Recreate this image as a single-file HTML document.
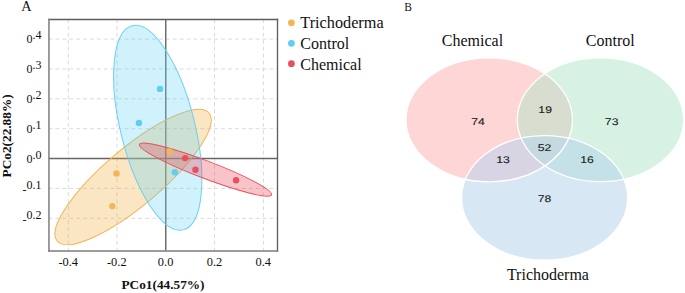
<!DOCTYPE html>
<html><head><meta charset="utf-8">
<style>
html,body{margin:0;padding:0;background:#fff;width:685px;height:293px;overflow:hidden}
svg{display:block}
text{font-family:"Liberation Serif",serif}
.sans text{font-family:"Liberation Sans",sans-serif}
</style></head>
<body>
<svg width="685" height="293" viewBox="0 0 685 293">
<defs>
  <clipPath id="plot"><rect x="49" y="19.5" width="228.5" height="231"/></clipPath>
  <clipPath id="cP"><ellipse cx="489.2" cy="119.8" rx="83.3" ry="62"/></clipPath>
  <clipPath id="cG"><ellipse cx="600.5" cy="119.7" rx="83.2" ry="61.9"/></clipPath>
</defs>

<!-- Panel A -->
<text x="21.2" y="10.8" font-size="14.3" fill="#111">A</text>

<!-- grid -->
<g stroke="#dadada" stroke-width="1" fill="none">
 <g stroke-dasharray="4 2.93">
  <line x1="68.3" y1="19" x2="68.3" y2="250.5"/>
  <line x1="117" y1="19" x2="117" y2="250.5"/>
  <line x1="214.5" y1="19" x2="214.5" y2="250.5"/>
  <line x1="263.4" y1="19" x2="263.4" y2="250.5"/>
 </g>
 <g stroke-dasharray="3.9 3">
  <line x1="48.6" y1="39.1" x2="277.5" y2="39.1"/>
  <line x1="48.6" y1="68.97" x2="277.5" y2="68.97"/>
  <line x1="48.6" y1="98.84" x2="277.5" y2="98.84"/>
  <line x1="48.6" y1="128.7" x2="277.5" y2="128.7"/>
  <line x1="48.6" y1="188.45" x2="277.5" y2="188.45"/>
  <line x1="48.6" y1="218.3" x2="277.5" y2="218.3"/>
 </g>
</g>

<!-- zero lines -->
<g stroke="#666" stroke-width="1.4">
  <line x1="165.75" y1="19.5" x2="165.75" y2="250.5"/>
  <line x1="48.5" y1="158.55" x2="277.5" y2="158.55"/>
</g>
<!-- ellipses -->
<g clip-path="url(#plot)">
<ellipse cx="133.1" cy="177.03" rx="99.31" ry="28.61" transform="rotate(-40.14 133.1 177.03)" fill="#f2ac37" fill-opacity="0.3" stroke="#f0b455" stroke-width="1"/>
<ellipse cx="157.76" cy="127.8" rx="105.21" ry="37.08" transform="rotate(75.95 157.76 127.8)" fill="#5fd4f8" fill-opacity="0.3" stroke="#6dcff0" stroke-width="1"/>
<ellipse cx="205.5" cy="169.61" rx="70.71" ry="8.81" transform="rotate(20.92 205.5 169.61)" fill="#e83a4e" fill-opacity="0.3" stroke="#e8505a" stroke-width="1"/>
</g>


<!-- points -->
<g>
  <circle cx="169.6" cy="151.5" r="3.2" fill="#f1b655"/>
  <circle cx="116.5" cy="173.5" r="3.2" fill="#f1b655"/>
  <circle cx="112.3" cy="206.1" r="3.2" fill="#f1b655"/>
  <circle cx="160" cy="88.9" r="3.2" fill="#64ccf0"/>
  <circle cx="138.9" cy="123" r="3.2" fill="#64ccf0"/>
  <circle cx="174.8" cy="172.3" r="3.2" fill="#64ccf0"/>
  <circle cx="185.1" cy="158.1" r="3.2" fill="#eb4f5d"/>
  <circle cx="195.5" cy="169.7" r="3.2" fill="#eb4f5d"/>
  <circle cx="236.1" cy="180.2" r="3.2" fill="#eb4f5d"/>
</g>

<!-- frame -->
<g fill="none">
  <line x1="48.2" y1="19.4" x2="278.2" y2="19.4" stroke="#5e5e5e" stroke-width="1.5"/>
  <line x1="277.5" y1="18.7" x2="277.5" y2="251.8" stroke="#5e5e5e" stroke-width="1.35"/>
  <line x1="48.95" y1="18.7" x2="48.95" y2="251.8" stroke="#858585" stroke-width="1.6"/>
  <line x1="48.2" y1="251.1" x2="278.2" y2="251.1" stroke="#7c7c7c" stroke-width="1.5"/>
</g>

<!-- x tick labels -->
<g font-size="12.4" fill="#111" text-anchor="middle">
  <text x="68.2" y="266">-0.4</text>
  <text x="116.8" y="266">-0.2</text>
  <text x="165.6" y="266">0.0</text>
  <text x="214.5" y="266">0.2</text>
  <text x="263.3" y="266">0.4</text>
</g>
<!-- y tick labels -->
<g font-size="12" fill="#111">
  <text x="26.6" y="43.3">0<tspan dy="-4.4">.4</tspan></text>
  <text x="26.6" y="73.0">0<tspan dy="-4.1">.3</tspan></text>
  <text x="26.6" y="102.6">0<tspan dy="-3.8">.2</tspan></text>
  <text x="26.6" y="132.8">0<tspan dy="-4.1">.1</tspan></text>
  <text x="26.6" y="162.5">0<tspan dy="-3.9">.0</tspan></text>
  <text x="22.6" y="193.9">-<tspan dy="-5.1">0.1</tspan></text>
  <text x="22.6" y="223.5">-<tspan dy="-4.6">0.2</tspan></text>
</g>

<!-- axis titles -->
<text x="163" y="288.9" font-size="13.3" font-weight="bold" text-anchor="middle" fill="#111">PCo1(44.57%)</text>
<text transform="translate(11.1 135.9) rotate(-90)" font-size="13.3" font-weight="bold" text-anchor="middle" fill="#111">PCo2(22.88%)</text>

<!-- legend -->
<circle cx="291.4" cy="22.8" r="3.4" fill="#f1b655"/>
<circle cx="291.4" cy="43.3" r="3.4" fill="#64ccf0"/>
<circle cx="291.4" cy="63.7" r="3.4" fill="#eb4f5d"/>
<g font-size="16" fill="#111">
  <text x="300.3" y="27.6" textLength="83.3" lengthAdjust="spacingAndGlyphs">Trichoderma</text>
  <text x="300.3" y="48.8">Control</text>
  <text x="300.3" y="69.6">Chemical</text>
</g>

<!-- Panel B -->
<text x="0" y="10.8" font-size="13.4" fill="#111" transform="translate(404.3 0) scale(0.86 1)">B</text>

<ellipse cx="489.2" cy="119.8" rx="83.3" ry="62" fill="#ffd6d6"/>
<ellipse cx="600.5" cy="119.7" rx="83.2" ry="61.9" fill="#d7f1e3"/>
<ellipse cx="544.6" cy="197.9" rx="83.05" ry="62.3" fill="#d8e7f4"/>
<g clip-path="url(#cP)"><ellipse cx="600.5" cy="119.7" rx="83.2" ry="61.9" fill="#d7decf"/></g>
<g clip-path="url(#cP)"><ellipse cx="544.6" cy="197.9" rx="83.05" ry="62.3" fill="#d8d4e3"/></g>
<g clip-path="url(#cG)"><ellipse cx="544.6" cy="197.9" rx="83.05" ry="62.3" fill="#c4e1e8"/></g>
<g clip-path="url(#cP)"><g clip-path="url(#cG)"><ellipse cx="544.6" cy="197.9" rx="83.05" ry="62.3" fill="#c4d9e0"/></g></g>
<g fill="none" stroke="#fff" stroke-width="1.3">
  <ellipse cx="489.2" cy="119.8" rx="83.3" ry="62"/>
  <ellipse cx="600.5" cy="119.7" rx="83.2" ry="61.9"/>
  <ellipse cx="544.6" cy="197.9" rx="83.05" ry="62.3"/>
</g>

<g class="sans" text-rendering="geometricPrecision" font-size="10" fill="#1a1a1a" stroke="#1a1a1a" stroke-width="0.1" text-anchor="middle">
  <text x="0" y="0" transform="translate(477.95 124.7) scale(1.22 0.97)">74</text>
  <text x="0" y="0" transform="translate(545.15 113.1) scale(1.22 0.97)">19</text>
  <text x="0" y="0" transform="translate(611.65 124.7) scale(1.22 0.97)">73</text>
  <text x="0" y="0" transform="translate(502.95 163.0) scale(1.22 0.97)">13</text>
  <text x="0" y="0" transform="translate(544.6 151.0) scale(1.22 0.97)">52</text>
  <text x="0" y="0" transform="translate(587.05 163.1) scale(1.22 0.97)">16</text>
  <text x="0" y="0" transform="translate(544.6 201.7) scale(1.22 0.97)">78</text>
</g>

<g font-size="16" fill="#111">
  <text x="441.8" y="45.8">Chemical</text>
  <text x="585.8" y="45.6">Control</text>
  <text x="506.9" y="279.6">Trichoderma</text>
</g>
</svg>
</body></html>
